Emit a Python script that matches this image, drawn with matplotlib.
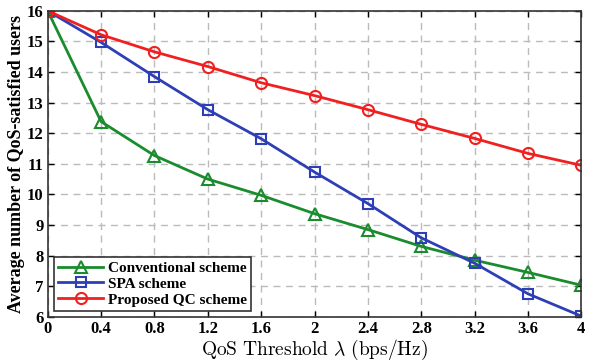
import matplotlib
matplotlib.use("Agg")
import matplotlib.pyplot as plt

plt.rcParams["font.family"] = ["Liberation Serif", "DejaVu Serif"]
plt.rcParams["mathtext.fontset"] = "cm"

# data
lam = [0, 0.4, 0.8, 1.2, 1.6, 2.0, 2.4, 2.8, 3.2, 3.6, 4.0]
conventional = [16, 12.38, 11.27, 10.5, 9.97, 9.37, 8.85, 8.3, 7.85, 7.45, 7.03]
spa = [16, 14.97, 13.85, 12.77, 11.82, 10.73, 9.7, 8.58, 7.75, 6.75, 6.02]
proposed = [16, 15.22, 14.66, 14.18, 13.65, 13.23, 12.77, 12.29, 11.83, 11.34, 10.95]
xticks = [0, 0.4, 0.8, 1.2, 1.6, 2, 2.4, 2.8, 3.2, 3.6, 4]
xticklabels = ["0", "0.4", "0.8", "1.2", "1.6", "2", "2.4", "2.8", "3.2", "3.6", "4"]

fig = plt.figure(figsize=(5.89, 3.62), dpi=100)
ax = fig.add_axes([0.081, 0.125, 0.906, 0.845])

ax.plot(lam, conventional, color="#1a8c2e", lw=2, marker="^", ms=8,
        mfc="none", mew=1.5, label="Conventional scheme")
ax.plot(lam, spa, color="#2e3fb5", lw=2, marker="s", ms=7,
        mfc="none", mew=1.5, label="SPA scheme")
ax.plot(lam, proposed, color="#f02020", lw=2, marker="o", ms=8,
        mfc="none", mew=1.5, label="Proposed QC scheme")

ax.set_xlim(0, 4)
ax.set_ylim(6, 16)
ax.set_xticks(xticks)
ax.set_xticklabels(xticklabels)
ax.set_yticks(range(6, 17))
ax.tick_params(direction="in", top=True, right=True, length=4, width=1,
               labelsize=12, pad=3)
for lbl in ax.get_xticklabels() + ax.get_yticklabels():
    lbl.set_fontweight("bold")
for sp in ax.spines.values():
    sp.set_linewidth(1.2)
    sp.set_color("#333333")

ax.grid(True, ls=(0, (5, 4)), color="#bbbbbb", lw=1)

ax.set_xlabel(r"$\mathrm{QoS\ Threshold}\ \lambda\ \mathrm{(bps/Hz)}$", fontsize=14, labelpad=1)
ax.set_ylabel("Average number of QoS-satisfied users", fontsize=13,
              fontweight="bold", labelpad=1)

leg = ax.legend(loc="lower left", fancybox=False, framealpha=1,
                edgecolor="#333333", handlelength=3, borderpad=0.25,
                labelspacing=0.15, handletextpad=0.3, borderaxespad=0.4,
                prop={"weight": "bold", "size": 11})
leg.get_frame().set_linewidth(1.2)

fig.savefig("out.png", dpi=100)
